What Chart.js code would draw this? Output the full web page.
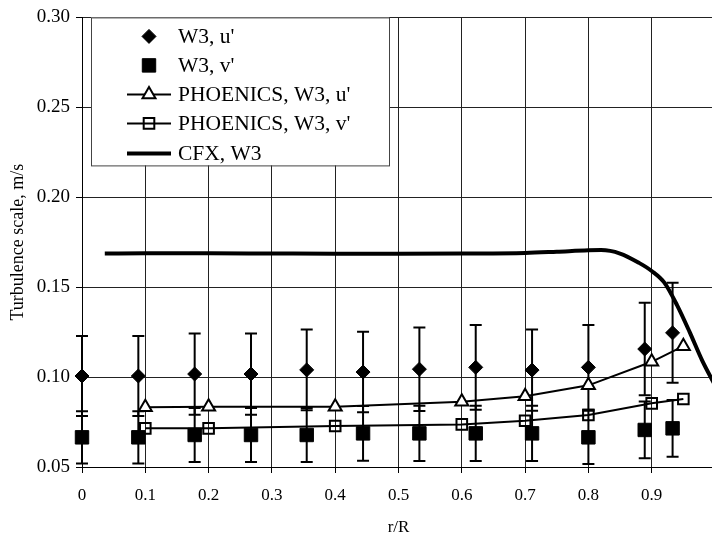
<!DOCTYPE html>
<html>
<head>
<meta charset="utf-8">
<script src="https://cdn.jsdelivr.net/npm/chart.js@4.4.0/dist/chart.umd.min.js"></script>
<style>
  html, body { margin: 0; padding: 0; background: #fff; overflow: hidden; }
  #wrap { position: absolute; left: 0; top: 0; width: 716px; height: 536px; }
</style>
</head>
<body>
<div id="wrap"><canvas id="myChart" width="716" height="536"></canvas></div>
<script>
// experimental points (W3)
const expX = [0, 0.089, 0.178, 0.267, 0.355, 0.444, 0.533, 0.622, 0.711, 0.8, 0.889, 0.933];
const uMean = [0.1006, 0.1006, 0.1017, 0.1017, 0.104, 0.1028, 0.1044, 0.1054, 0.1039, 0.1054, 0.1156, 0.1246];
const uErr = [0.0223, 0.0223, 0.0226, 0.0226, 0.0225, 0.0224, 0.0232, 0.0236, 0.0226, 0.0236, 0.0257, 0.0278];
const vMean = [0.0665, 0.0665, 0.0678, 0.0678, 0.0678, 0.0687, 0.0687, 0.0687, 0.0687, 0.0665, 0.0706, 0.0715];
const vErr = [0.0145, 0.0145, 0.015, 0.015, 0.015, 0.0152, 0.0154, 0.0154, 0.0154, 0.0148, 0.0158, 0.0158];

// PHOENICS
const phX = [0.1, 0.2, 0.4, 0.6, 0.7, 0.8, 0.9, 0.95];
const phU = [0.0832, 0.0835, 0.0835, 0.0863, 0.0894, 0.0954, 0.1085, 0.1172];
const phV = [0.0715, 0.0715, 0.0728, 0.0737, 0.0757, 0.0789, 0.0854, 0.0878];

// CFX
const cfxX = [0.036, 0.1, 0.2, 0.3, 0.4, 0.5, 0.6, 0.7, 0.75, 0.8, 0.82, 0.85, 0.88, 0.9, 0.92, 0.94, 0.96, 0.98, 1.0];
const cfxY = [0.1687, 0.1688, 0.1688, 0.1687, 0.1686, 0.1686, 0.1687, 0.169, 0.1697, 0.1705, 0.1706, 0.1687, 0.1635, 0.159, 0.1525, 0.14, 0.125, 0.109, 0.0955];

const xTickLabels = ['0', '0.1', '0.2', '0.3', '0.4', '0.5', '0.6', '0.7', '0.8', '0.9', ''];
const yTickLabels = ['0.05', '0.10', '0.15', '0.20', '0.25', '0.30'];

const legendLabels = ["W3, u'", "W3, v'", "PHOENICS, W3, u'", "PHOENICS, W3, v'", 'CFX, W3'];

const FONT = 'Liberation Serif';
const GRID = '#222';

function pts(xs, ys) {
  return xs.map((x, i) => ({ x: x, y: ys[i] }));
}

function drawShape(ctx, style, r, x, y) {
  if (style === 'rectRot') {
    ctx.moveTo(x, y - r); ctx.lineTo(x + r, y); ctx.lineTo(x, y + r); ctx.lineTo(x - r, y); ctx.closePath();
  } else if (style === 'rect') {
    const s = r * Math.SQRT1_2;
    ctx.rect(x - s, y - s, 2 * s, 2 * s);
  } else if (style === 'triangle') {
    const a = r * Math.sin(Math.PI / 3);
    ctx.moveTo(x, y - r); ctx.lineTo(x + a, y + r / 2); ctx.lineTo(x - a, y + r / 2); ctx.closePath();
  }
}

// error bars drawn with the chart scales
const errorBars = {
  id: 'errorBars',
  beforeDatasetsDraw(chart) {
    const { ctx, scales: { x, y } } = chart;
    ctx.save();
    ctx.strokeStyle = '#000';
    ctx.lineWidth = 2;
    const draw = (means, errs) => {
      means.forEach((m, i) => {
        const px = x.getPixelForValue(expX[i]);
        const top = y.getPixelForValue(m + errs[i]);
        const bot = y.getPixelForValue(m - errs[i]);
        ctx.beginPath();
        ctx.moveTo(px, top);
        ctx.lineTo(px, bot);
        ctx.moveTo(px - 6, top);
        ctx.lineTo(px + 6, top);
        ctx.moveTo(px - 6, bot);
        ctx.lineTo(px + 6, bot);
        ctx.stroke();
      });
    };
    draw(uMean, uErr);
    draw(vMean, vErr);
    ctx.restore();
  }
};

// boxed legend inside the plot
const boxLegend = {
  id: 'boxLegend',
  afterDraw(chart) {
    const { ctx, chartArea } = chart;
    const left = chartArea.left + 9;
    const top = chartArea.top;
    ctx.save();
    ctx.fillStyle = '#fff';
    ctx.fillRect(left, top, 298, 148);
    ctx.strokeStyle = '#444';
    ctx.lineWidth = 1;
    ctx.strokeRect(left + 0.5, top + 0.5, 298, 148);

    const rows = [19, 48, 77, 106, 136];
    const sx = left + 58;
    ctx.font = '21.5px "' + FONT + '"';
    ctx.textBaseline = 'middle';
    chart.data.datasets.forEach((ds, i) => {
      const cy = top + rows[i];
      if (ds.showLine) {
        ctx.beginPath();
        ctx.strokeStyle = '#000';
        ctx.lineWidth = ds.borderWidth;
        ctx.moveTo(sx - 22, cy);
        ctx.lineTo(sx + 22, cy);
        ctx.stroke();
      }
      if (ds.pointRadius > 0) {
        ctx.fillStyle = ds.pointBackgroundColor;
        ctx.strokeStyle = '#000';
        ctx.lineWidth = ds.pointBorderWidth;
        ctx.beginPath();
        drawShape(ctx, ds.pointStyle, ds.pointRadius, sx, cy);
        if (ds.pointBackgroundColor !== 'transparent') ctx.fill();
        ctx.stroke();
      }
      ctx.fillStyle = '#000';
      ctx.fillText(legendLabels[i], sx + 29, cy + 1);
    });
    ctx.restore();
  }
};

const ctx = document.getElementById('myChart').getContext('2d');
const myChart = new Chart(ctx, {
  type: 'scatter',
  data: {
    datasets: [
      {
        label: legendLabels[0],
        data: pts(expX, uMean),
        pointStyle: 'rectRot',
        pointRadius: 7,
        pointBorderWidth: 1,
        pointBackgroundColor: '#000',
        borderColor: '#000',
        showLine: false,
        clip: false,
      },
      {
        label: legendLabels[1],
        data: pts(expX, vMean),
        pointStyle: 'rect',
        pointRadius: 9.5,
        pointBorderWidth: 1,
        pointBackgroundColor: '#000',
        borderColor: '#000',
        showLine: false,
        clip: false,
      },
      {
        label: legendLabels[2],
        data: pts(phX, phU),
        pointStyle: 'triangle',
        pointRadius: 7.5,
        pointBorderWidth: 2,
        pointBackgroundColor: '#fff',
        borderColor: '#000',
        borderWidth: 2,
        showLine: true,
        clip: false,
      },
      {
        label: legendLabels[3],
        data: pts(phX, phV),
        pointStyle: 'rect',
        pointRadius: 7.5,
        pointBorderWidth: 2,
        pointBackgroundColor: 'transparent',
        borderColor: '#000',
        borderWidth: 2,
        showLine: true,
        clip: false,
      },
      {
        label: legendLabels[4],
        data: pts(cfxX, cfxY),
        pointRadius: 0,
        borderColor: '#000',
        borderWidth: 4,
        cubicInterpolationMode: 'monotone',
        showLine: true,
      },
    ],
  },
  options: {
    responsive: false,
    animation: false,
    events: [],
    layout: { autoPadding: false, padding: { top: 16, right: 1, left: 0, bottom: 0 } },
    plugins: {
      legend: { display: false },
      tooltip: { enabled: false },
    },
    scales: {
      x: {
        type: 'linear',
        min: 0,
        max: 1.0,
        afterFit: (scale) => {
          scale.height = 69;
          scale.paddingRight = 0;
        },
        afterBuildTicks: (scale) => {
          scale.ticks = xTickLabels.map((t, i) => ({ value: i / 10 }));
        },
        grid: { color: GRID, lineWidth: 1, tickLength: 6, tickColor: '#000' },
        border: { color: '#000', width: 1 },
        ticks: {
          color: '#000',
          padding: 12,
          maxRotation: 0,
          autoSkip: false,
          font: { family: FONT, size: 17 },
          callback: (value, index) => xTickLabels[index],
        },
        title: {
          display: true,
          text: 'r/R',
          color: '#000',
          padding: { top: 0, bottom: -2 },
          font: { family: FONT, size: 17 },
        },
      },
      y: {
        min: 0.05,
        max: 0.30,
        afterFit: (scale) => { scale.width = 82; },
        afterBuildTicks: (scale) => {
          scale.ticks = yTickLabels.map((t) => ({ value: parseFloat(t) }));
        },
        grid: { color: GRID, lineWidth: 1, tickLength: 6, tickColor: '#000' },
        border: { color: '#000', width: 1 },
        ticks: {
          color: '#000',
          padding: 6,
          autoSkip: false,
          font: { family: FONT, size: 19 },
          callback: (value, index) => yTickLabels[index],
        },
        title: {
          display: true,
          text: 'Turbulence scale, m/s',
          color: '#000',
          padding: { top: 7, bottom: 0 },
          font: { family: FONT, size: 18 },
        },
      },
    },
  },
  plugins: [errorBars, boxLegend],
});
</script>
</body>
</html>
